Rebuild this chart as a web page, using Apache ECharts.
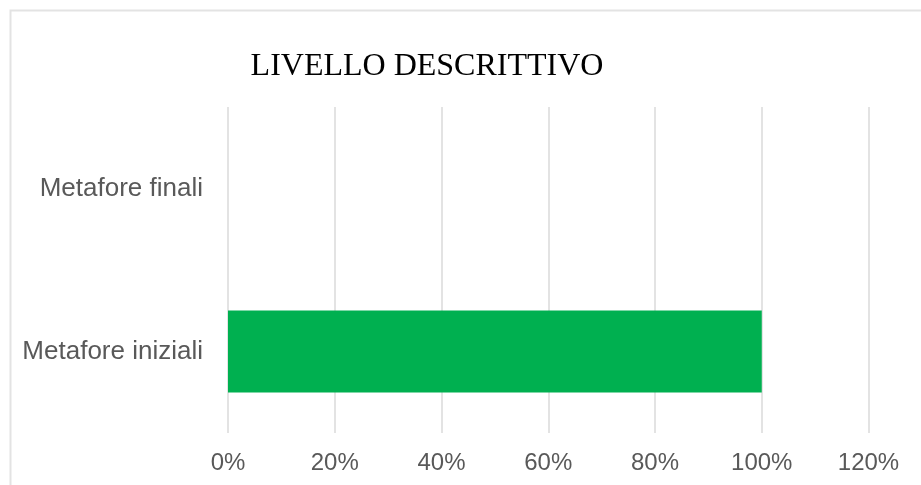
<!DOCTYPE html>
<html>
<head>
<meta charset="utf-8">
<script src="https://cdn.jsdelivr.net/npm/echarts@6/dist/echarts.min.js"></script>
<style>
  html, body { margin: 0; padding: 0; background: #fff; }
  #chart { width: 921px; height: 485px; }
</style>
</head>
<body>
<div id="chart"></div>
<script>
// categories bottom -> top
const categories = ["Metafore iniziali", "Metafore finali"];
const values = [1, 0];
const xTicks = [0, 0.2, 0.4, 0.6, 0.8, 1.0, 1.2];

let myChart = echarts.init(document.getElementById("chart"));
let option = {
  animation: false,
  title: {
    text: "LIVELLO DESCRITTIVO",
    left: 427,
    textAlign: "center",
    top: 46,
    textStyle: {
      fontFamily: "Liberation Serif",
      fontWeight: "normal",
      fontSize: 32,
      color: "#000"
    }
  },
  graphic: [{
    type: "rect",
    shape: { x: 10.5, y: 10.5, width: 930, height: 490 },
    style: { fill: "none", stroke: "#e3e3e3", lineWidth: 2 },
    silent: true
  }],
  grid: { left: 228, right: 52.5, top: 107, bottom: 52 },
  xAxis: {
    type: "value",
    min: xTicks[0],
    max: xTicks[xTicks.length - 1],
    interval: 0.2,
    axisLine: { show: false },
    axisTick: { show: false },
    splitLine: { show: true, lineStyle: { color: "#e3e3e3", width: 2 } },
    axisLabel: {
      margin: 18,
      fontFamily: "Liberation Sans",
      fontSize: 24,
      color: "#595959",
      formatter: v => Math.round(v * 100) + "%"
    }
  },
  yAxis: {
    type: "category",
    data: categories,
    axisLine: { show: false },
    axisTick: { show: false },
    axisLabel: {
      margin: 25,
      fontFamily: "Liberation Sans",
      fontSize: 26,
      color: "#595959"
    }
  },
  series: [{
    type: "bar",
    data: values,
    barWidth: 82,
    itemStyle: { color: "#00B050" }
  }]
};
// title nudged left to match the reference centring
option.title.left = 422;
myChart.setOption(option);
</script>
</body>
</html>
